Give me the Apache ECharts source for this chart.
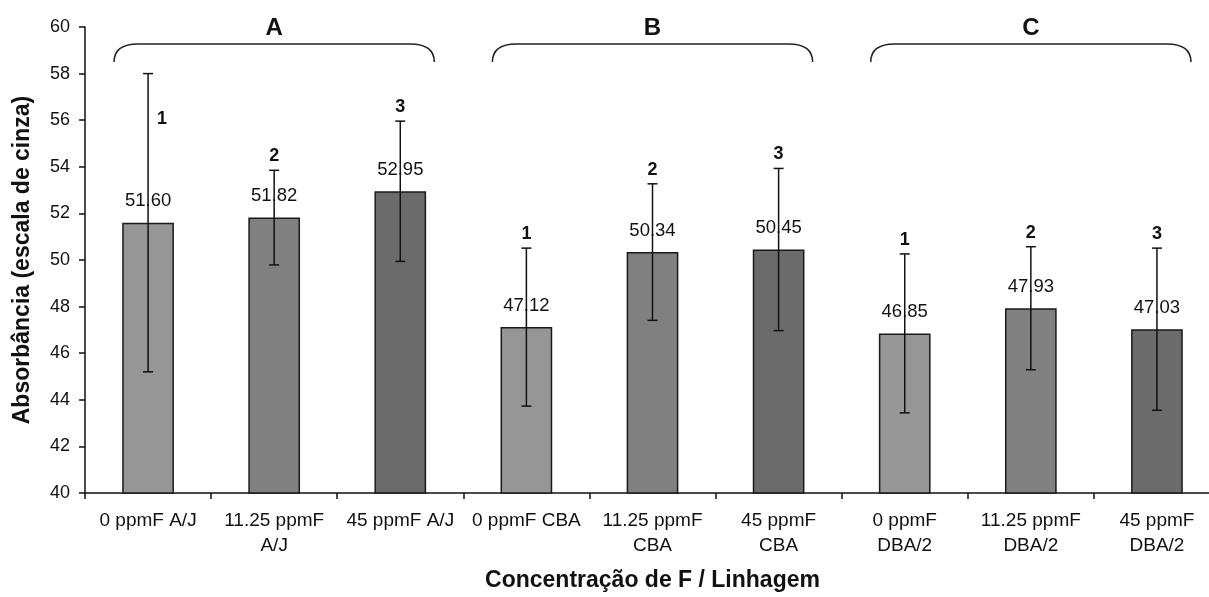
<!DOCTYPE html>
<html>
<head>
<meta charset="utf-8">
<script src="https://cdn.jsdelivr.net/npm/echarts@6/dist/echarts.min.js"></script>
<style>
html,body{margin:0;padding:0;background:#fff;}
#chart{width:1209px;height:597px;}
</style>
</head>
<body>
<div id="chart"></div>
<script>
// ---- data ----
const categories = ['0 ppmF A/J', '11.25 ppmF A/J', '45 ppmF A/J',
                    '0 ppmF CBA', '11.25 ppmF CBA', '45 ppmF CBA',
                    '0 ppmF DBA/2', '11.25 ppmF DBA/2', '45 ppmF DBA/2'];
const means  = [51.60, 51.82, 52.95, 47.12, 50.34, 50.45, 46.85, 47.93, 47.03];
const errors = [6.40, 2.03, 3.01, 3.39, 2.93, 3.48, 3.41, 2.64, 3.48];
const sigLabels = ['1', '2', '3', '1', '2', '3', '1', '2', '3'];
const groupLetters = ['A', 'B', 'C'];
const groupStart = [0, 3, 6];
const groupEnd = [2, 5, 8];
const yMin = 40, yMax = 60, yStep = 2;
const xTitle = 'Concentração de F / Linhagem';
const yTitle = 'Absorbância (escala de cinza)';

// ---- styles ----
const FONT = '"Liberation Sans", Arial, sans-serif';
const doseColors = ['#969696', '#808080', '#6b6b6b'];
const INK = '#111';
const X_LABEL_SIZE = 19;
const X_LABEL_MAXW = 114;

// wrap axis label at the last space when it is too wide for a category
const measureCtx = document.createElement('canvas').getContext('2d');
measureCtx.font = X_LABEL_SIZE + 'px ' + FONT;
function wrapLabel(s) {
  if (measureCtx.measureText(s).width <= X_LABEL_MAXW) return s;
  const k = s.lastIndexOf(' ');
  return k > 0 ? s.slice(0, k) + '\n' + s.slice(k + 1) : s;
}

const chart = echarts.init(document.getElementById('chart'), null, {renderer: 'canvas'});

const barData = means.map((v, i) => ({
  value: v,
  itemStyle: {color: doseColors[i % 3]}
}));
const errData = means.map((v, i) => [i, v, errors[i]]);
const braceData = groupLetters.map((g, k) => [groupStart[k], groupEnd[k], k]);

const option = {
  animation: false,
  backgroundColor: '#fff',
  grid: {left: 85, top: 27, width: 1135, height: 466, containLabel: false, outerBoundsMode: 'none'},
  xAxis: {
    type: 'category',
    data: categories,
    boundaryGap: true,
    name: xTitle,
    nameLocation: 'middle',
    nameGap: 76,
    nameTextStyle: {fontFamily: FONT, fontSize: 23, fontWeight: 'bold', color: INK},
    axisLine: {lineStyle: {color: INK, width: 1.5}},
    axisTick: {show: true, alignWithLabel: false, length: 6, lineStyle: {color: INK, width: 1.5}},
    axisLabel: {
      interval: 0, fontFamily: FONT, fontSize: X_LABEL_SIZE, color: INK, margin: 15,
      lineHeight: 25, align: 'center', formatter: wrapLabel
    },
    splitLine: {show: false}
  },
  yAxis: {
    type: 'value',
    min: yMin, max: yMax, interval: yStep,
    name: yTitle,
    nameLocation: 'middle',
    nameGap: 51,
    nameRotate: 90,
    nameTextStyle: {fontFamily: FONT, fontSize: 23, fontWeight: 'bold', color: INK},
    axisLine: {show: true, lineStyle: {color: INK, width: 1.5}},
    axisTick: {show: true, length: 6, lineStyle: {color: INK, width: 1.5}},
    axisLabel: {fontFamily: FONT, fontSize: 18, color: INK, margin: 15},
    splitLine: {show: false}
  },
  series: [
    {
      type: 'bar',
      data: barData,
      barWidth: '41%',
      itemStyle: {borderColor: '#1a1a1a', borderWidth: 1.5},
      label: {
        show: true, position: 'top', distance: 12,
        fontFamily: FONT, fontSize: 18.5, color: INK,
        formatter: p => p.value.toFixed(2)
      },
      z: 2
    },
    {
      type: 'custom',
      data: errData,
      clip: false,
      z: 5,
      renderItem: function (params, api) {
        const x = api.value(0), m = api.value(1), e = api.value(2);
        const hi = api.coord([x, m + e]);
        const lo = api.coord([x, m - e]);
        const cap = 5;
        const ls = {stroke: '#111', lineWidth: 1.5};
        const idx = params.dataIndex;
        let tx = hi[0], ty = hi[1] - 14;
        if (idx === 0) { tx = hi[0] + 14; ty = hi[1] + 45; }
        return {
          type: 'group',
          children: [
            {type: 'line', shape: {x1: hi[0], y1: hi[1], x2: lo[0], y2: lo[1]}, style: ls},
            {type: 'line', shape: {x1: hi[0] - cap, y1: hi[1], x2: hi[0] + cap, y2: hi[1]}, style: ls},
            {type: 'line', shape: {x1: lo[0] - cap, y1: lo[1], x2: lo[0] + cap, y2: lo[1]}, style: ls},
            {type: 'text', x: tx, y: ty, style: {
              text: sigLabels[idx], fontFamily: FONT, fontSize: 18, fontWeight: 'bold',
              fill: INK, align: 'center', verticalAlign: 'middle'}}
          ]
        };
      }
    },
    {
      type: 'custom',
      data: braceData,
      clip: false,
      z: 5,
      renderItem: function (params, api) {
        const s = api.value(0), e = api.value(1), k = api.value(2);
        const top = api.coord([s, yMax])[1];
        const x0 = api.coord([s, yMax])[0] - 34;
        const x1 = api.coord([e, yMax])[0] + 34;
        const xm = api.coord([(s + e) / 2, yMax])[0];
        const yl = top + 17, ye = top + 35;
        const r = 24;
        const path = 'M' + x0 + ',' + ye +
          ' Q' + x0 + ',' + yl + ' ' + (x0 + r) + ',' + yl +
          ' L' + (x1 - r) + ',' + yl +
          ' Q' + x1 + ',' + yl + ' ' + x1 + ',' + ye;
        return {
          type: 'group',
          children: [
            {type: 'path', shape: {pathData: path}, style: {stroke: '#222', lineWidth: 1.5, fill: null}},
            {type: 'text', x: xm, y: top + 1, style: {
              text: groupLetters[k], fontFamily: FONT, fontSize: 24, fontWeight: 'bold',
              fill: INK, align: 'center', verticalAlign: 'middle'}}
          ]
        };
      }
    }
  ]
};
chart.setOption(option);
</script>
</body>
</html>
